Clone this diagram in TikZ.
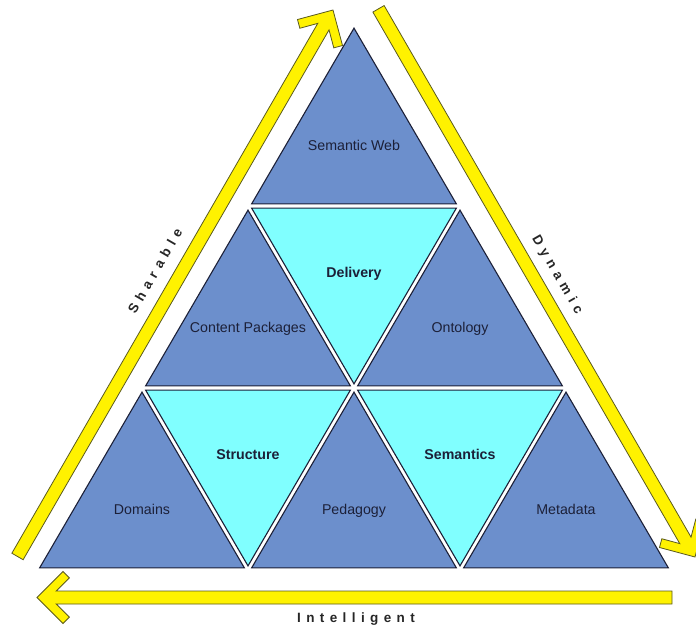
\documentclass[tikz,border=0pt]{standalone}
\usepackage{fontspec}
\setmainfont{Liberation Sans}
\usepackage{tikz}
\usetikzlibrary{calc}
\definecolor{triblue}{RGB}{108,143,204}
\definecolor{tricyan}{RGB}{128,255,255}
\definecolor{trinavy}{RGB}{28,32,56}
\definecolor{arrowline}{RGB}{90,90,30}
\newcommand\shr{0.034}
\newcommand\tri[6]{%
\coordinate (#5) at (barycentric cs:#2=1,#3=1,#4=1);
\filldraw[#1] ($(#2)!\shr!(#5)$)--($(#3)!\shr!(#5)$)--($(#4)!\shr!(#5)$)--cycle;
\node[#1 text] (#5 text) at (#5) {#6};}

\begin{document}
\begin{tikzpicture}[x=1pt,y=-1pt,
up/.style={fill=triblue,draw=trinavy,line width=1.1pt},
down/.style={fill=tricyan,draw=trinavy,line width=1.1pt},
up text/.style={text=trinavy,text height=10pt,text depth=3pt,yshift=-2pt,font=\fontsize{14.2}{16}\selectfont},
down text/.style={up text,font=\fontsize{14.2}{16}\selectfont\bfseries,yshift=-5pt},
side text/.style={text=black!85,font=\fontsize{13.5}{16}\selectfont\bfseries\addfontfeature{LetterSpace=40}},
pics/yarrow/.style={code={\filldraw[fill=yellow,draw=arrowline,line width=0.8pt]
(0,0)--(-26,26)--(-32.4,19.6)--(-19.2,6.5)--(-#1,6.5)--(-#1,-6.5)--(-19.2,-6.5)--(-32.4,-19.6)--(-26,-26)--cycle;}}]
\useasboundingbox (0,0) rectangle (696,630);
\clip (0,0) rectangle (696,630);
\foreach \j in {0,...,3}{
\pgfmathtruncatemacro\n{3-\j}
\foreach \i in {0,...,\n}
\coordinate (p\i\j) at ({36+106*\j+212*\i},{570-182*\j});}
\tri{up}{p00}{p10}{p01}{domains}{Domains}
\tri{up}{p10}{p20}{p11}{pedagogy}{Pedagogy}
\tri{up}{p20}{p30}{p21}{metadata}{Metadata}
\tri{up}{p01}{p11}{p02}{content}{Content Packages}
\tri{up}{p11}{p21}{p12}{ontology}{Ontology}
\tri{up}{p02}{p12}{p03}{web}{Semantic Web}
\tri{down}{p10}{p01}{p11}{structure}{Structure}
\tri{down}{p20}{p11}{p21}{semantics}{Semantics}
\tri{down}{p11}{p02}{p12}{delivery}{Delivery}
\coordinate (tip S) at (333,10);
\coordinate (tip D) at (695,557);
\coordinate (tip I) at (37,597.5);
\pic[rotate=60] at (tip S) {yarrow=631};
\pic[rotate=-60] at (tip D) {yarrow=633};
\pic[rotate=180] at (tip I) {yarrow=635};
\node[side text,rotate=60] (sharable) at (155,271) {Sharable};
\node[side text,rotate=-60] (dynamic) at (557,275) {Dynamic};
\node[side text] (intelligent) at (356,619) {Intelligent};
\end{tikzpicture}
\end{document}
